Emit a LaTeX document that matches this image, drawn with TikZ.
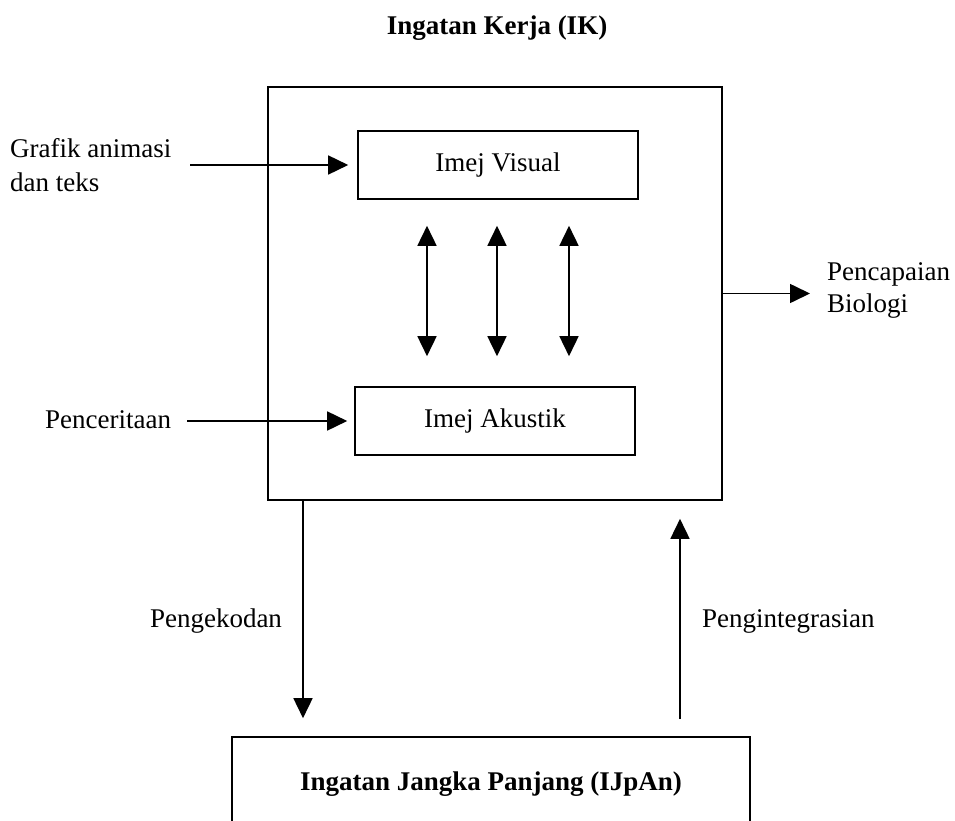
\documentclass[tikz,border=0pt]{standalone}
\usepackage{fontspec}
\setmainfont{Liberation Serif}
\usetikzlibrary{arrows.meta}
\begin{document}
\begin{tikzpicture}[x=1pt,y=-1pt,
  txt/.style={font=\fontsize{27}{32}\selectfont, inner sep=0pt},
  btxt/.style={font=\fontsize{27}{32}\selectfont\bfseries, inner sep=0pt},
  boxed/.style={draw, line width=1.6pt, inner sep=0pt},
  conn/.style={line width=1.6pt, -{Triangle[length=20pt,width=19pt]}},
  dconn/.style={line width=1.6pt, {Triangle[length=20pt,width=19pt]}-{Triangle[length=20pt,width=19pt]}},
]
\useasboundingbox (0,0) rectangle (955,821);
\clip (0,0) rectangle (955,821);

% title
\node[btxt, anchor=base] (title) at (497,35) {Ingatan Kerja (IK)};

% working memory box
\node[boxed, minimum width=454pt, minimum height=413pt] (wm) at (495,293.5) {};
\node[boxed, txt, minimum width=280pt, minimum height=68pt] (visual) at (498,165) {Imej Visual};
\node[boxed, txt, minimum width=280pt, minimum height=68pt] (akustik) at (495,421) {Imej Akustik};

% inputs
\node[txt, anchor=base west] (grafik1) at (10,158) {Grafik animasi};
\node[txt, anchor=base west] (grafik2) at (10,192) {dan teks};
\coordinate (gstart) at (190,165);
\draw[conn, shorten >=9pt] (gstart) -- (visual.west);

\node[txt, anchor=base west] (pencer) at (45,428) {Penceritaan};
\coordinate (pstart) at (187,421);
\draw[conn, shorten >=7pt] (pstart) -- (akustik.west);

% output
\coordinate (pend) at (810,293.5);
\draw[conn] (wm.east) -- (pend);
\node[txt, anchor=base west] (penc1) at (827,280) {Pencapaian};
\node[txt, anchor=base west] (penc2) at (827,312) {Biologi};

% double arrows
\coordinate (da1) at (427,0);
\coordinate (da2) at (497,0);
\coordinate (da3) at (569,0);
\foreach \c in {da1,da2,da3}{
  \draw[dconn, shorten <=26pt, shorten >=30pt] (visual.south -| \c) -- (akustik.north -| \c);
}

% long term memory
\node[boxed, minimum width=518pt, minimum height=123pt] (ltm) at (491,798.5) {};
\node[btxt, anchor=base] (ltmlabel) at (491,790) {Ingatan Jangka Panjang (IJpAn)};

\coordinate (dn) at (303,0);
\coordinate (up) at (680,0);
\draw[conn, shorten >=18pt] (wm.south -| dn) -- (ltm.north -| dn);
\draw[conn, shorten <=17pt, shorten >=18pt] (ltm.north -| up) -- (wm.south -| up);

\node[txt, anchor=base] (peng) at (216,627) {Pengekodan};
\node[txt, anchor=base west] (pengi) at (702,627) {Pengintegrasian};
\end{tikzpicture}
\end{document}
